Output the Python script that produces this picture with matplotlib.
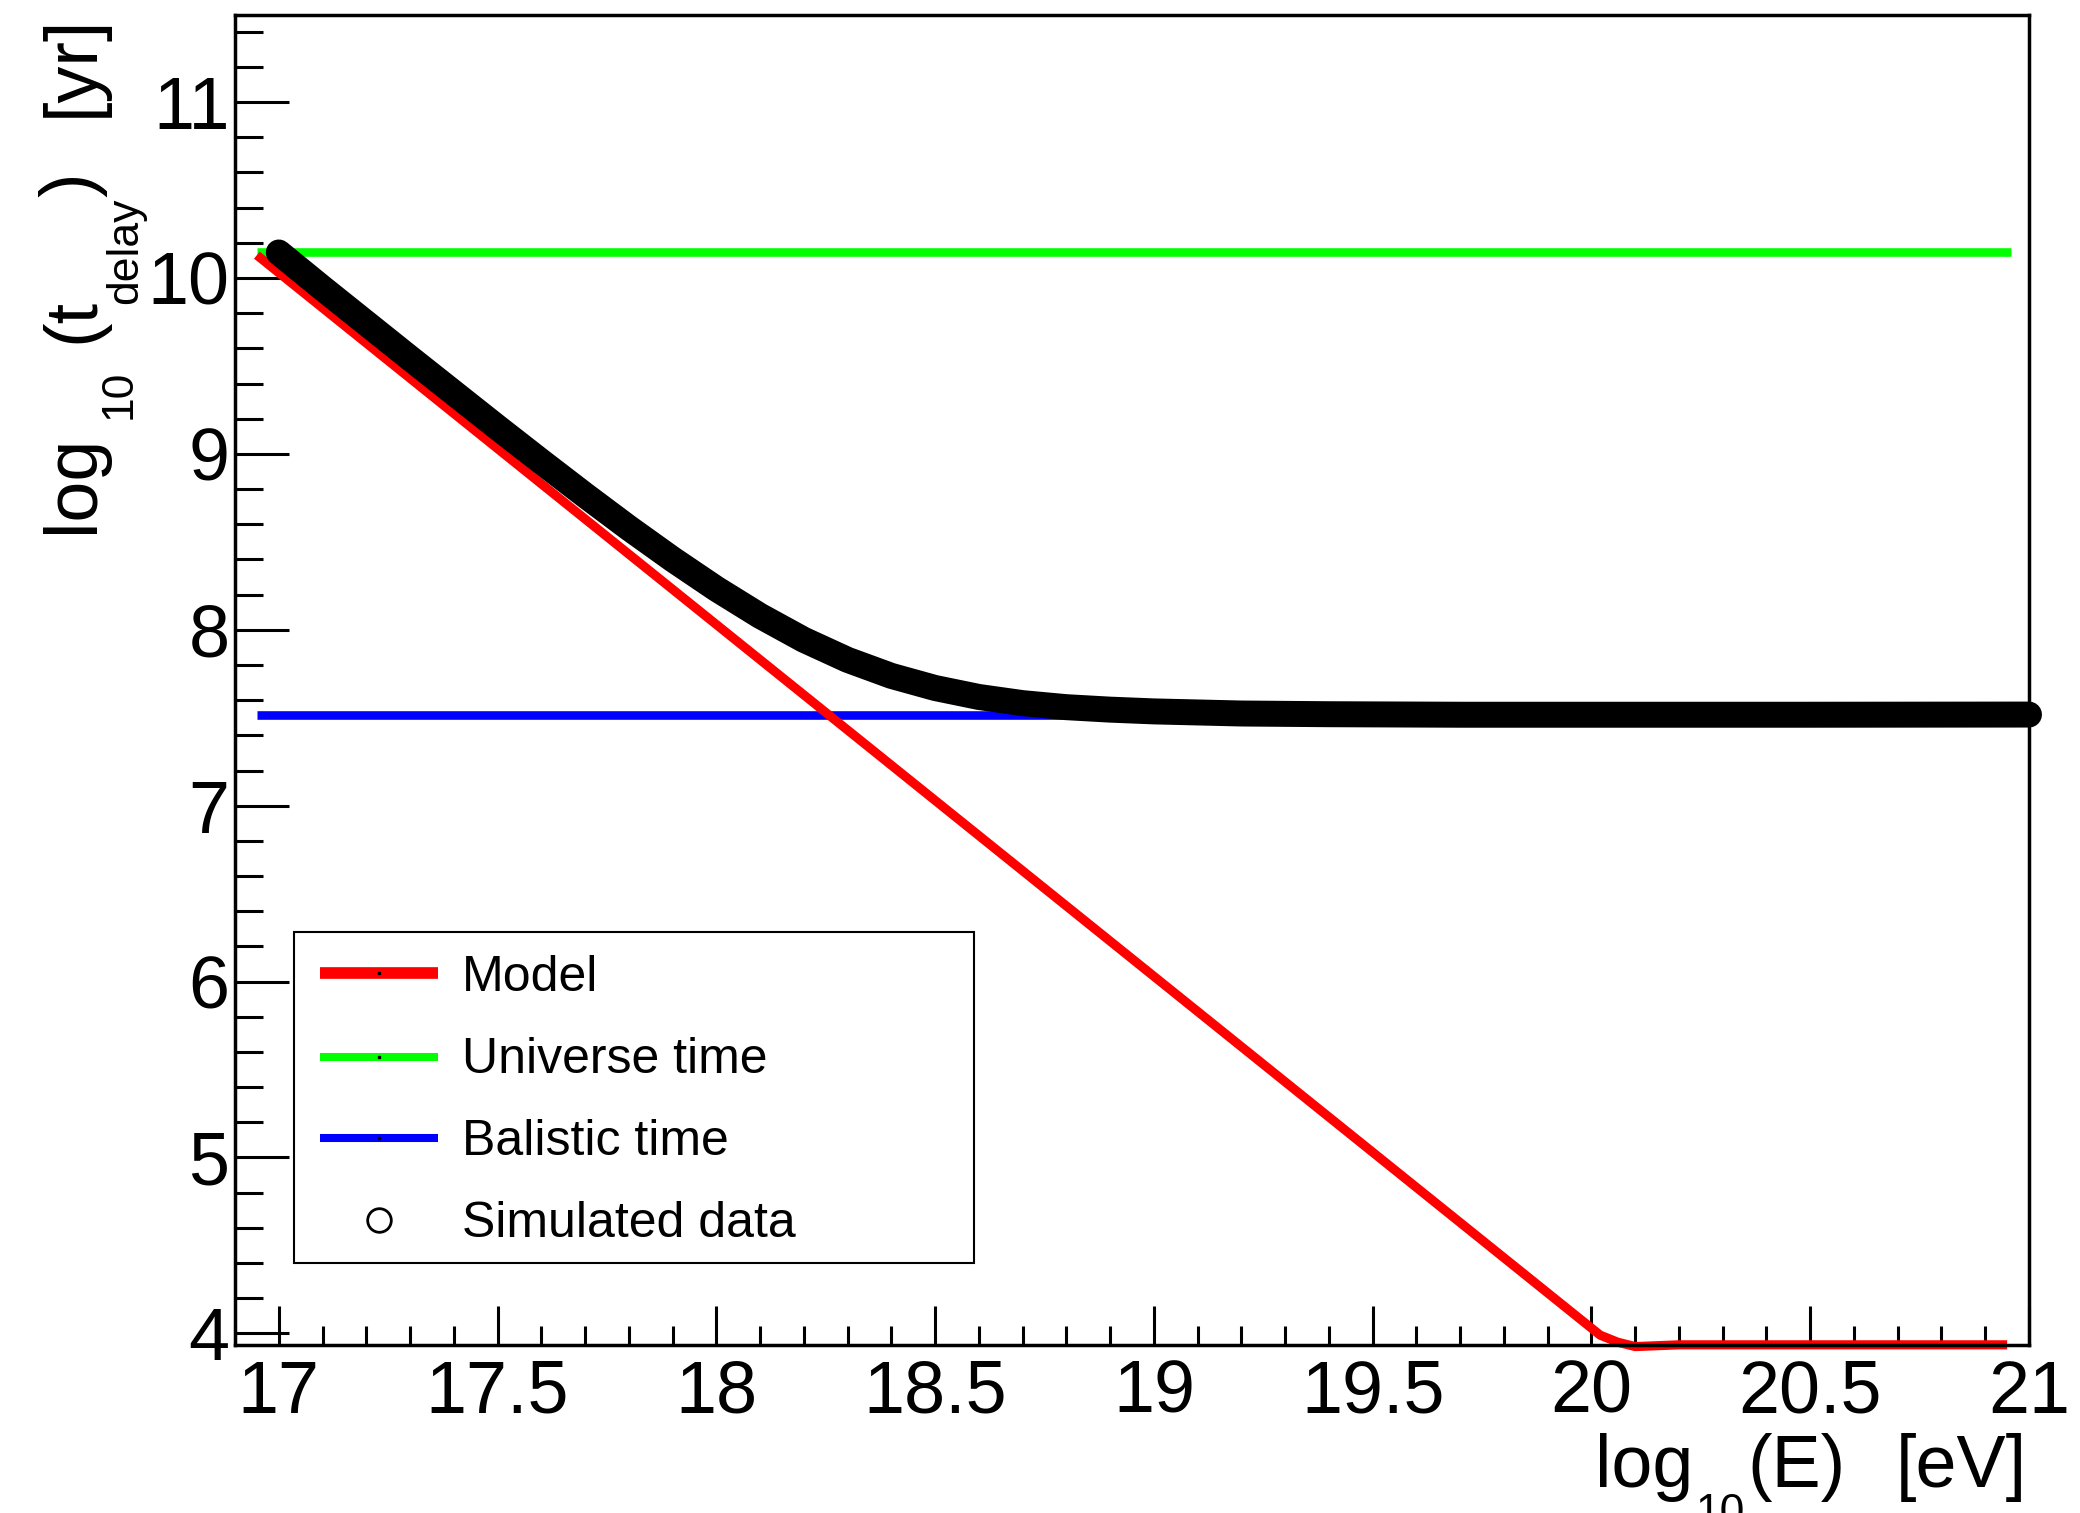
import matplotlib
matplotlib.use("Agg")
import matplotlib.pyplot as plt
from matplotlib.lines import Line2D
from matplotlib.patches import Rectangle
from matplotlib.ticker import MultipleLocator, FuncFormatter

plt.rcParams["font.family"] = ["Liberation Sans", "DejaVu Sans"]

# ---- data -------------------------------------------------------------
# propagation model (log10 of delay time in years vs log10 energy in eV)
model_logE = [16.95, 17.5, 18.0, 18.5, 19.0, 19.5, 19.9, 19.98, 20.02, 20.06,
              20.1, 20.2, 20.5, 20.95]
model_logt = [10.13, 9.03, 8.03, 7.03, 6.03, 5.03, 4.23, 4.07, 3.99, 3.95,
              3.925, 3.935, 3.935, 3.935]

# reference times
universe_logE = [16.95, 20.96]
universe_logt = [10.147, 10.147]
ballistic_logE = [16.95, 20.96]
ballistic_logt = [7.516, 7.516]

# simulated propagation delays
sim_logE = [17.0, 17.1, 17.2, 17.3, 17.4, 17.5, 17.6, 17.7, 17.8, 17.9,
            18.0, 18.1, 18.2, 18.3, 18.4, 18.5, 18.6, 18.7, 18.8, 18.9,
            19.0, 19.2, 19.4, 19.7, 20.0, 20.5, 21.0]
sim_logt = [10.145, 9.942, 9.743, 9.544, 9.347, 9.150, 8.956, 8.765, 8.579, 8.401,
            8.233, 8.079, 7.943, 7.829, 7.738, 7.669, 7.618, 7.583, 7.560, 7.546,
            7.536, 7.524, 7.520, 7.517, 7.517, 7.517, 7.518]

legend_labels = ["Model", "Universe time", "Balistic time", "Simulated data"]

# ---- figure -----------------------------------------------------------
W, H = 2080, 1513
fig = plt.figure(figsize=(W / 100, H / 100), dpi=100)
renderer = fig.canvas.get_renderer()


def fx(px):
    return px / W


def fy(py):
    return 1 - py / H


def text_len(s, size):
    t = fig.text(0, 0, s, fontsize=size)
    w = t.get_window_extent(renderer).width
    t.remove()
    return w


ax = fig.add_axes([fx(235), fy(1345), (2029 - 235) / W, (1345 - 15) / H])

ax.plot(universe_logE, universe_logt, color="#00ff00", lw=6.2,
        solid_capstyle="butt", zorder=2)
ax.plot(ballistic_logE, ballistic_logt, color="#0000ff", lw=6.2,
        solid_capstyle="butt", zorder=2)
ax.plot(model_logE, model_logt, color="#ff0000", lw=6.6,
        solid_capstyle="butt", solid_joinstyle="round", clip_on=False, zorder=2.1)
ax.plot(sim_logE, sim_logt, color="black", lw=18.7, solid_capstyle="round",
        solid_joinstyle="round", clip_on=False, zorder=2.2)

ax.set_xlim(16.9, 21.0)
ax.set_ylim(3.934, 11.495)

ax.xaxis.set_major_locator(MultipleLocator(0.5))
ax.xaxis.set_minor_locator(MultipleLocator(0.1))
ax.yaxis.set_major_locator(MultipleLocator(1))
ax.yaxis.set_minor_locator(MultipleLocator(0.2))
ax.xaxis.set_major_formatter(FuncFormatter(lambda v, p: f"{v:g}"))
ax.yaxis.set_major_formatter(FuncFormatter(lambda v, p: f"{v:g}"))

ax.tick_params(axis="both", which="both", direction="in", top=False,
               right=False, width=2.2, colors="black")
ax.tick_params(axis="x", which="major", length=28, pad=10, labelsize=53)
ax.tick_params(axis="x", which="minor", length=14)
ax.tick_params(axis="y", which="major", length=39, pad=4, labelsize=53)
ax.tick_params(axis="y", which="minor", length=20)
for sp in ax.spines.values():
    sp.set_linewidth(2.5)
    sp.set_zorder(3)

# ---- axis titles with large, deep subscripts ----------------------------
BIG, SUB = 53, 32

# x title: log_10(E)  [eV]
x0, base = 1595.0, 1487.0
fig.text(fx(x0), fy(base), "log", fontsize=BIG, ha="left", va="baseline")
x0 += text_len("log", BIG) + 2
fig.text(fx(x0), fy(base + 38), "10", fontsize=SUB, ha="left", va="baseline")
x0 += text_len("10", SUB) + 3
fig.text(fx(x0), fy(base), "(E)", fontsize=BIG, ha="left", va="baseline")
fig.text(fx(2027), fy(base), "[eV]", fontsize=BIG, ha="right", va="baseline")

# y title: log_10 (t_delay)  [yr], reading bottom to top
xb, y0 = 93.0, 533.0
rot = dict(rotation=90, rotation_mode="anchor", ha="left", va="baseline")
fig.text(fx(xb), fy(y0), "log", fontsize=BIG, **rot)
y0 -= text_len("log", BIG) + 16
fig.text(fx(xb + 38), fy(y0), "10", fontsize=SUB, **rot)
y0 -= text_len("10", SUB) + 26
fig.text(fx(xb), fy(y0), "(t", fontsize=BIG, **rot)
y0 -= text_len("(t", BIG) - 6
fig.text(fx(xb + 44), fy(y0), "delay", fontsize=SUB, **rot)
y0 -= text_len("delay", SUB) + 1
fig.text(fx(xb), fy(y0), ")", fontsize=BIG, **rot)
fig.text(fx(xb), fy(15), "[yr]", fontsize=BIG, rotation=90,
         rotation_mode="anchor", ha="right", va="baseline")

# ---- legend -------------------------------------------------------------
fig.add_artist(Rectangle((fx(294), fy(1263)), (974 - 294) / W, (1263 - 932) / H,
                         transform=fig.transFigure, fill=True, facecolor="white",
                         edgecolor="black", lw=1.5, zorder=5))
rows = [973, 1057, 1138, 1220]
baselines = [991, 1073, 1155, 1237]
styles = [("#ff0000", 8.4), ("#00ff00", 5.8), ("#0000ff", 5.8)]
for (c, lw), y in zip(styles, rows[:3]):
    fig.add_artist(Line2D([fx(319.5), fx(438)], [fy(y), fy(y)], color=c, lw=lw,
                          solid_capstyle="butt", transform=fig.transFigure, zorder=6))
    fig.add_artist(Line2D([fx(378.7)], [fy(y)], marker="s", ms=1.6, color="black",
                          lw=0, transform=fig.transFigure, zorder=7))
fig.add_artist(Line2D([fx(378.7)], [fy(rows[3])], marker="o", ms=17,
                      markerfacecolor="none", markeredgecolor="black", mew=2.0,
                      lw=0, transform=fig.transFigure, zorder=6))
for lab, yb in zip(legend_labels, baselines):
    fig.text(fx(462), fy(yb), lab, fontsize=36, ha="left", va="baseline", zorder=7)

fig.savefig("out.png", dpi=100, facecolor="white")
